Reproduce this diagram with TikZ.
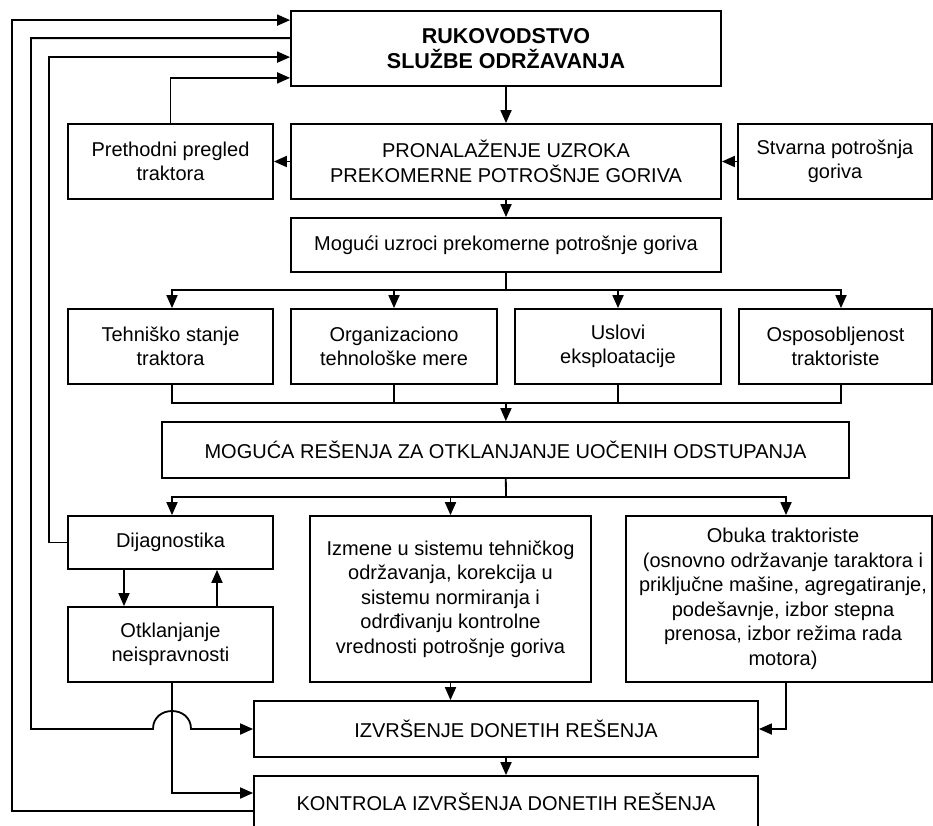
\documentclass[tikz,border=0pt]{standalone}
\usepackage{fontspec}
\setmainfont{Liberation Sans}
\usetikzlibrary{arrows.meta,calc}

\begin{document}
\begin{tikzpicture}[x=1pt, y=-1pt,
        box/.style={draw, line width=1.8pt, inner sep=0pt, align=center, font=\fontsize{20}{24.5}\selectfont},
        arrow/.style={-{Triangle[length=13pt,width=11pt]}, line width=1.8pt},
        line/.style={line width=1.8pt}
    ]
        \useasboundingbox (0,0) rectangle (933,825);

        % rukovodstvo
        \node[box, minimum width=430pt, minimum height=75pt, font=\fontsize{21.5}{25}\selectfont\bfseries] (ruk) at (506,48.5) {RUKOVODSTVO\\SLUŽBE ODRŽAVANJA};

        % pronalazenje uzroka
        \node[box, minimum width=430pt, minimum height=75pt] (pron) at (506,161.5) {PRONALAŽENJE UZROKA\\PREKOMERNE POTROŠNJE GORIVA};
        \node[box, minimum width=205pt, minimum height=75pt] (preth) at (170.5,161.5) {Prethodni pregled\\traktora};
        \node[box, minimum width=194pt, minimum height=75pt] (stv) at (835,161.5) {Stvarna potrošnja\\goriva};
        \node[box, minimum width=430pt, minimum height=54pt] (mog) at (506,245) {Mogući uzroci prekomerne potrošnje goriva};

        % uzroci
        \node[box, minimum width=205pt, minimum height=75pt] (teh) at (170.5,346.5) {Tehniško stanje\\traktora};
        \node[box, minimum width=206pt, minimum height=75pt] (org) at (394,346.5) {Organizaciono\\tehnološke mere};
        \node[box, minimum width=206pt, minimum height=75pt] (usl) at (618,346.5) {Uslovi\\eksploatacije};
        \node[box, minimum width=193pt, minimum height=75pt] (osp) at (835.5,346.5) {Osposobljenost\\traktoriste};

        % resenja
        \node[box, minimum width=687pt, minimum height=56pt] (res) at (505.5,450) {MOGUĆA REŠENJA ZA OTKLANJANJE UOČENIH ODSTUPANJA};
        \node[box, minimum width=205pt, minimum height=53pt] (dij) at (170.5,542.5) {Dijagnostika};
        \node[box, minimum width=205pt, minimum height=75pt] (otk) at (170.5,644.5) {Otklanjanje\\neispravnosti};
        \node[box, minimum width=281pt, minimum height=166pt] (izm) at (450.5,599) {Izmene u sistemu tehničkog\\održavanja, korekcija u\\sistemu normiranja i\\odrđivanju kontrolne\\vrednosti potrošnje goriva};
        \node[box, minimum width=306pt, minimum height=166pt] (obu) at (779,599) {\hspace*{8pt}Obuka traktoriste\\\hspace*{8pt}(osnovno održavanje taraktora i\\\hspace*{8pt}priključne mašine, agregatiranje,\\\hspace*{8pt}podešavnje, izbor stepna\\\hspace*{8pt}prenosa, izbor režima rada\\\hspace*{8pt}motora)};

        % izvrsenje i kontrola
        \node[box, minimum width=504pt, minimum height=56pt] (izv) at (506,729) {IZVRŠENJE DONETIH REŠENJA};
        \node[box, minimum width=504pt, minimum height=52pt] (kon) at (506,802) {KONTROLA IZVRŠENJA DONETIH REŠENJA};

        % pomocne tacke
        \coordinate (bus1) at (506,290);
        \coordinate (bus2) at (506,403);
        \coordinate (bus3) at (506,497);
        \coordinate (lane1) at (12,400);
        \coordinate (lane2) at (31,729);
        \coordinate (lane3) at (49,300);
        \coordinate (hop) at (otk.south |- izv.west);

        % gornji deo
        \draw[arrow] (ruk) -- (pron);
        \draw[arrow] (pron) -- (preth);
        \draw[arrow] (stv) -- (pron);
        \draw[arrow] (preth.north) |- ([yshift=9pt]ruk.south west);
        \draw[arrow] (pron) -- (mog);

        % grananje uzroka
        \draw[line] (mog) -- (bus1);
        \draw[arrow] (bus1) -| ([xshift=1.5pt]teh.north);
        \draw[arrow] (bus1) -| (org);
        \draw[arrow] (bus1) -| (usl);
        \draw[arrow] (bus1) -| ([xshift=5.5pt]osp.north);
        \draw[line] ([xshift=1.5pt]teh.south) |- (bus2) -| ([xshift=5.5pt]osp.south);
        \draw[line] (org.south) -- (org.south |- bus2);
        \draw[line] (usl.south) -- (usl.south |- bus2);
        \draw[arrow] (bus2) -- (res);

        % grananje resenja
        \draw[line] (res) -- (bus3);
        \draw[arrow] (bus3) -| ([xshift=1.5pt]dij.north);
        \draw[arrow] (bus3) -| (izm);
        \draw[arrow] (bus3) -| ([xshift=7pt]obu.north);
        \draw[arrow] ([xshift=-46.5pt]dij.south) -- ([xshift=-46.5pt]otk.north);
        \draw[arrow] ([xshift=46.5pt]otk.north) -- ([xshift=46.5pt]dij.south);

        % ka izvrsenju i kontroli
        \draw[arrow] (izm.south) -- (izm.south |- izv.north);
        \draw[arrow] ([xshift=7pt]obu.south) |- (izv.east);
        \draw[arrow] (izv) -- (kon);
        \draw[arrow] ([xshift=1.5pt]otk.south) |- ([yshift=9pt]kon.west);

        % povratne veze
        \draw[arrow] ([yshift=-9pt]kon.west) -| (lane1) |- ([yshift=-10pt]ruk.north west);
        \draw[arrow] ([yshift=-28pt]ruk.north west) -| (lane2) -- ($(hop)+(-17.5,0)$)
            .. controls ($(hop)+(-17.5,-24)$) and ($(hop)+(20.5,-24)$) .. ($(hop)+(20.5,0)$) -- (izv.west);
        \draw[arrow] (dij.west) -| (lane3) |- ([yshift=-47pt]ruk.north west);
    \end{tikzpicture}
\end{document}
